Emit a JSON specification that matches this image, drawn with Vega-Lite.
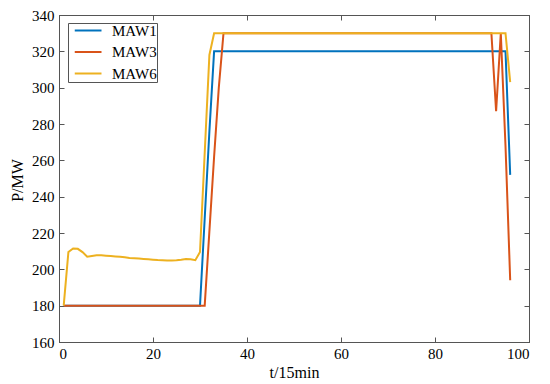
{
  "$schema": "https://vega.github.io/schema/vega-lite/v6.json",
  "width": 470,
  "height": 327,
  "autosize": "none",
  "padding": {"left": 59, "top": 15, "right": 21, "bottom": 42},
  "background": "white",
  "config": {
    "view": {"stroke": "#555", "strokeWidth": 1},
    "font": "Liberation Serif",
    "axis": {
      "grid": false,
      "domainColor": "#555",
      "tickColor": "#555",
      "tickSize": -5,
      "labelFont": "Liberation Serif",
      "labelFontSize": 15,
      "labelColor": "#000",
      "titleFont": "Liberation Serif",
      "titleFontSize": 16,
      "titleFontWeight": "normal",
      "titleColor": "#000"
    },
    "legend": {
      "labelFont": "Liberation Serif",
      "labelFontSize": 15,
      "labelColor": "#000"
    }
  },
  "data": {
    "values": [
      {"t":1,"MAW1":180,"MAW3":180,"MAW6":180},
      {"t":2,"MAW1":180,"MAW3":180,"MAW6":209.5},
      {"t":3,"MAW1":180,"MAW3":180,"MAW6":211.5},
      {"t":4,"MAW1":180,"MAW3":180,"MAW6":211.3},
      {"t":5,"MAW1":180,"MAW3":180,"MAW6":209.5},
      {"t":6,"MAW1":180,"MAW3":180,"MAW6":207},
      {"t":7,"MAW1":180,"MAW3":180,"MAW6":207.4},
      {"t":8,"MAW1":180,"MAW3":180,"MAW6":207.7},
      {"t":9,"MAW1":180,"MAW3":180,"MAW6":207.7},
      {"t":10,"MAW1":180,"MAW3":180,"MAW6":207.5},
      {"t":11,"MAW1":180,"MAW3":180,"MAW6":207.3},
      {"t":12,"MAW1":180,"MAW3":180,"MAW6":207.1},
      {"t":13,"MAW1":180,"MAW3":180,"MAW6":206.9},
      {"t":14,"MAW1":180,"MAW3":180,"MAW6":206.6},
      {"t":15,"MAW1":180,"MAW3":180,"MAW6":206.3},
      {"t":16,"MAW1":180,"MAW3":180,"MAW6":206.1},
      {"t":17,"MAW1":180,"MAW3":180,"MAW6":205.9},
      {"t":18,"MAW1":180,"MAW3":180,"MAW6":205.7},
      {"t":19,"MAW1":180,"MAW3":180,"MAW6":205.5},
      {"t":20,"MAW1":180,"MAW3":180,"MAW6":205.3},
      {"t":21,"MAW1":180,"MAW3":180,"MAW6":205.1},
      {"t":22,"MAW1":180,"MAW3":180,"MAW6":205},
      {"t":23,"MAW1":180,"MAW3":180,"MAW6":204.9},
      {"t":24,"MAW1":180,"MAW3":180,"MAW6":204.9},
      {"t":25,"MAW1":180,"MAW3":180,"MAW6":205},
      {"t":26,"MAW1":180,"MAW3":180,"MAW6":205.3},
      {"t":27,"MAW1":180,"MAW3":180,"MAW6":205.7},
      {"t":28,"MAW1":180,"MAW3":180,"MAW6":205.5},
      {"t":29,"MAW1":180,"MAW3":180,"MAW6":205},
      {"t":30,"MAW1":180,"MAW3":180,"MAW6":209.5},
      {"t":31,"MAW1":228,"MAW3":180,"MAW6":264},
      {"t":32,"MAW1":276,"MAW3":221,"MAW6":318},
      {"t":33,"MAW1":320,"MAW3":262,"MAW6":330},
      {"t":34,"MAW1":320,"MAW3":300,"MAW6":330},
      {"t":35,"MAW1":320,"MAW3":330,"MAW6":330},
      {"t":36,"MAW1":320,"MAW3":330,"MAW6":330},
      {"t":37,"MAW1":320,"MAW3":330,"MAW6":330},
      {"t":38,"MAW1":320,"MAW3":330,"MAW6":330},
      {"t":39,"MAW1":320,"MAW3":330,"MAW6":330},
      {"t":40,"MAW1":320,"MAW3":330,"MAW6":330},
      {"t":41,"MAW1":320,"MAW3":330,"MAW6":330},
      {"t":42,"MAW1":320,"MAW3":330,"MAW6":330},
      {"t":43,"MAW1":320,"MAW3":330,"MAW6":330},
      {"t":44,"MAW1":320,"MAW3":330,"MAW6":330},
      {"t":45,"MAW1":320,"MAW3":330,"MAW6":330},
      {"t":46,"MAW1":320,"MAW3":330,"MAW6":330},
      {"t":47,"MAW1":320,"MAW3":330,"MAW6":330},
      {"t":48,"MAW1":320,"MAW3":330,"MAW6":330},
      {"t":49,"MAW1":320,"MAW3":330,"MAW6":330},
      {"t":50,"MAW1":320,"MAW3":330,"MAW6":330},
      {"t":51,"MAW1":320,"MAW3":330,"MAW6":330},
      {"t":52,"MAW1":320,"MAW3":330,"MAW6":330},
      {"t":53,"MAW1":320,"MAW3":330,"MAW6":330},
      {"t":54,"MAW1":320,"MAW3":330,"MAW6":330},
      {"t":55,"MAW1":320,"MAW3":330,"MAW6":330},
      {"t":56,"MAW1":320,"MAW3":330,"MAW6":330},
      {"t":57,"MAW1":320,"MAW3":330,"MAW6":330},
      {"t":58,"MAW1":320,"MAW3":330,"MAW6":330},
      {"t":59,"MAW1":320,"MAW3":330,"MAW6":330},
      {"t":60,"MAW1":320,"MAW3":330,"MAW6":330},
      {"t":61,"MAW1":320,"MAW3":330,"MAW6":330},
      {"t":62,"MAW1":320,"MAW3":330,"MAW6":330},
      {"t":63,"MAW1":320,"MAW3":330,"MAW6":330},
      {"t":64,"MAW1":320,"MAW3":330,"MAW6":330},
      {"t":65,"MAW1":320,"MAW3":330,"MAW6":330},
      {"t":66,"MAW1":320,"MAW3":330,"MAW6":330},
      {"t":67,"MAW1":320,"MAW3":330,"MAW6":330},
      {"t":68,"MAW1":320,"MAW3":330,"MAW6":330},
      {"t":69,"MAW1":320,"MAW3":330,"MAW6":330},
      {"t":70,"MAW1":320,"MAW3":330,"MAW6":330},
      {"t":71,"MAW1":320,"MAW3":330,"MAW6":330},
      {"t":72,"MAW1":320,"MAW3":330,"MAW6":330},
      {"t":73,"MAW1":320,"MAW3":330,"MAW6":330},
      {"t":74,"MAW1":320,"MAW3":330,"MAW6":330},
      {"t":75,"MAW1":320,"MAW3":330,"MAW6":330},
      {"t":76,"MAW1":320,"MAW3":330,"MAW6":330},
      {"t":77,"MAW1":320,"MAW3":330,"MAW6":330},
      {"t":78,"MAW1":320,"MAW3":330,"MAW6":330},
      {"t":79,"MAW1":320,"MAW3":330,"MAW6":330},
      {"t":80,"MAW1":320,"MAW3":330,"MAW6":330},
      {"t":81,"MAW1":320,"MAW3":330,"MAW6":330},
      {"t":82,"MAW1":320,"MAW3":330,"MAW6":330},
      {"t":83,"MAW1":320,"MAW3":330,"MAW6":330},
      {"t":84,"MAW1":320,"MAW3":330,"MAW6":330},
      {"t":85,"MAW1":320,"MAW3":330,"MAW6":330},
      {"t":86,"MAW1":320,"MAW3":330,"MAW6":330},
      {"t":87,"MAW1":320,"MAW3":330,"MAW6":330},
      {"t":88,"MAW1":320,"MAW3":330,"MAW6":330},
      {"t":89,"MAW1":320,"MAW3":330,"MAW6":330},
      {"t":90,"MAW1":320,"MAW3":330,"MAW6":330},
      {"t":91,"MAW1":320,"MAW3":330,"MAW6":330},
      {"t":92,"MAW1":320,"MAW3":330,"MAW6":330},
      {"t":93,"MAW1":320,"MAW3":287,"MAW6":330},
      {"t":94,"MAW1":320,"MAW3":330,"MAW6":330},
      {"t":95,"MAW1":320,"MAW3":268,"MAW6":330},
      {"t":96,"MAW1":252,"MAW3":194,"MAW6":303}
    ]
  },
  "transform": [{"fold": ["MAW1", "MAW3", "MAW6"], "as": ["series", "P"]}],
  "layer": [
    {
      "mark": {"type": "line", "strokeWidth": 2, "clip": true},
      "encoding": {
        "x": {"field": "t", "type": "quantitative",
              "scale": {"domain": [0, 100], "nice": false},
              "axis": {"orient": "bottom", "values": [0,20,40,60,80,100], "title": "t/15min",
                       "labelFont": "Liberation Serif", "titleFont": "Liberation Serif",
                       "labelPadding": 9, "titleX": 235, "titleY": 30, "titleBaseline": "middle"}},
        "y": {"field": "P", "type": "quantitative",
              "scale": {"domain": [160, 340], "nice": false, "zero": false},
              "axis": {"orient": "left", "values": [160,180,200,220,240,260,280,300,320,340], "title": "P/MW",
                       "labelFont": "Liberation Serif", "titleFont": "Liberation Serif",
                       "labelPadding": 10, "titleX": -42, "titleY": 165, "titleAngle": -90, "titleBaseline": "middle", "titleAlign": "center"}},
        "color": {"field": "series", "type": "nominal",
                  "scale": {"domain": ["MAW1", "MAW3", "MAW6"], "range": ["#0072BD", "#D95319", "#EDB120"]},
                  "legend": {"title": null, "orient": "none", "legendX": 9, "legendY": 8,
                             "symbolType": "M-1,0H-1M-0.15,0H5.2", "symbolSize": 100, "symbolStrokeWidth": 2,
                             "labelFont": "Liberation Serif",
                             "labelExpr": "datum.label + '\u00a0\u00a0\u00a0'",
                             "strokeColor": "#555", "fillColor": "white", "padding": 0,
                             "rowPadding": 5.5, "labelOffset": 29}},
        "order": {"field": "series"}
      }
    },
    {
      "mark": {"type": "point", "opacity": 0},
      "encoding": {
        "x": {"field": "t", "type": "quantitative",
              "axis": {"orient": "top", "values": [0,20,40,60,80,100], "labels": false, "title": null}},
        "y": {"field": "P", "type": "quantitative",
              "axis": {"orient": "right", "values": [160,180,200,220,240,260,280,300,320,340], "labels": false, "title": null}}
      }
    }
  ],
  "resolve": {"axis": {"x": "independent", "y": "independent"}}
}
